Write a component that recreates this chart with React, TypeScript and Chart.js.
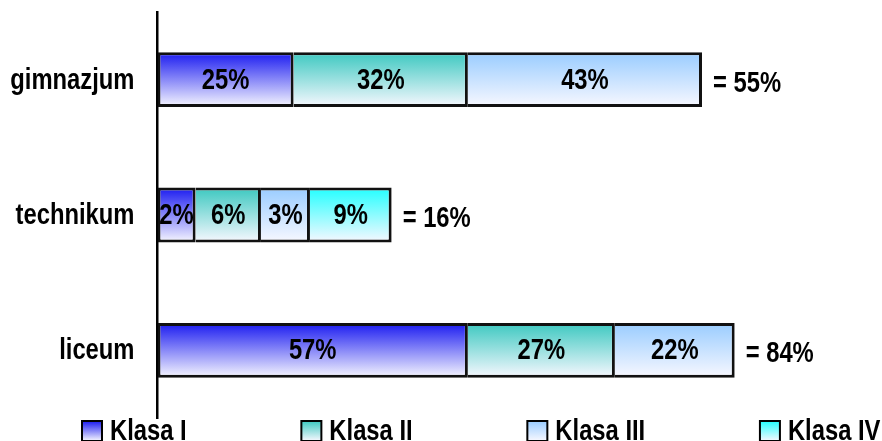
import React, { useEffect, useRef } from "react";
import { Chart, registerables } from "chart.js";

Chart.register(...registerables);

const categories = ["gimnazjum", "technikum", "liceum"];
const seriesNames = ["Klasa I", "Klasa II", "Klasa III", "Klasa IV"];
// bar lengths as drawn in the picture
const klasaI = [25, 7, 57];
const klasaII = [32, 12, 27];
const klasaIII = [43, 9, 22];
const klasaIV = [null, 15, null];
// printed labels
const labelsI = ["25%", "2%", "57%"];
const labelsII = ["32%", "6%", "27%"];
const labelsIII = ["43%", "3%", "22%"];
const labelsIV = ["", "9%", ""];
const totals = ["= 55%", "= 16%", "= 84%"];

const topColors = ["#1a1af0", "#3cc8c0", "#99ccff", "#22ffff"];
const bottomColor = "#f8f8ff";
const FAMILY = "'Liberation Sans', Arial, sans-serif";
const FONT_SIZE = 29;
const SX = 0.82; // condensed look (Arial Narrow-like)
const BAR_PCT = 0.405;

const segLabels = [labelsI, labelsII, labelsIII, labelsIV];
const seriesData = [klasaI, klasaII, klasaIII, klasaIV];

const makeBg = (color: string) => (ctx: any) => {
  const chart = ctx.chart;
  const ys = chart.scales && chart.scales.y;
  if (!ys || ctx.dataIndex === undefined) return color;
  const yc = ys.getPixelForValue(ctx.dataIndex);
  const half = ((ys.height / categories.length) * BAR_PCT) / 2;
  if (!isFinite(yc) || !isFinite(half) || half <= 0) return color;
  const g = chart.ctx.createLinearGradient(0, yc - half, 0, yc + half);
  g.addColorStop(0, color);
  g.addColorStop(1, bottomColor);
  return g;
};

function drawText(c: CanvasRenderingContext2D, t: string, x: number, y: number, align: CanvasTextAlign, baseline: CanvasTextBaseline) {
  c.save();
  c.translate(x, y);
  c.scale(SX, 1);
  c.textAlign = align;
  c.textBaseline = baseline;
  c.fillText(t, 0, 0);
  c.restore();
}

const labelPlugin = {
  id: "segLabels",
  afterDatasetsDraw(chart: any) {
    const c = chart.ctx;
    c.save();
    c.font = `bold ${FONT_SIZE}px ${FAMILY}`;
    c.fillStyle = "#000";
    const ends: number[] = categories.map(() => 0);
    chart.data.datasets.forEach((_ds: any, di: number) => {
      const meta = chart.getDatasetMeta(di);
      meta.data.forEach((el: any, i: number) => {
        const { x, y, base } = el.getProps(["x", "y", "base"], true);
        if (seriesData[di][i] == null) return;
        ends[i] = Math.max(ends[i], x);
        const t = segLabels[di][i];
        if (t) drawText(c, t, (x + base) / 2, y + 1, "center", "middle");
      });
    });
    const meta0 = chart.getDatasetMeta(0);
    totals.forEach((t, i) => {
      const y = meta0.data[i].y;
      drawText(c, t, ends[i] + 11, y + 4, "left", "middle");
    });
    // category labels on the y axis positions
    const ys = chart.scales.y;
    const left = chart.chartArea.left;
    (chart.data.labels as string[]).forEach((lab, i) => {
      drawText(c, lab, left - 23, ys.getPixelForValue(i) + 1, "right", "middle");
    });
    c.restore();
  },
  afterDraw(chart: any) {
    const c = chart.ctx;
    c.save();
    c.font = `bold ${FONT_SIZE}px ${FAMILY}`;
    let x = 82;
    const boxTop = 421;
    const box = 20;
    const gap = 114.7;
    seriesNames.forEach((name, i) => {
      const g = c.createLinearGradient(0, boxTop, 0, boxTop + box);
      g.addColorStop(0, topColors[i]);
      g.addColorStop(1, bottomColor);
      c.fillStyle = g;
      c.fillRect(x, boxTop, box, box);
      c.lineWidth = 2;
      c.strokeStyle = "#000";
      c.strokeRect(x, boxTop, box, box);
      c.fillStyle = "#000";
      const tx = x + box + 8;
      drawText(c, name, tx, 440, "left", "alphabetic");
      const w = c.measureText(name).width * SX;
      x = tx + w + gap;
    });
    c.restore();
  },
};

export default function App() {
  const ref = useRef<HTMLCanvasElement | null>(null);
  useEffect(() => {
    if (!ref.current) return;
    const chart = new Chart(ref.current, {
      type: "bar",
      data: {
        labels: categories,
        datasets: seriesNames.map((name, i) => ({
          label: name,
          data: seriesData[i] as any,
          backgroundColor: makeBg(topColors[i]),
          borderColor: "#111",
          borderWidth: { top: 3, bottom: 3, right: 3, left: i === 0 ? 3 : 0 },
          borderSkipped: false,
          barPercentage: BAR_PCT,
          categoryPercentage: 1,
        })),
      },
      options: {
        indexAxis: "y",
        responsive: false,
        animation: false,
        layout: { padding: { left: 0, right: 16.65, top: 12, bottom: 23 } },
        plugins: {
          legend: { display: false },
          tooltip: { enabled: false },
        },
        scales: {
          x: {
            stacked: true,
            min: 0,
            max: 130,
            display: false,
          },
          y: {
            stacked: true,
            grid: { display: false, drawTicks: false },
            border: { display: true, color: "#000", width: 2.5 },
            ticks: { display: false },
            afterFit: (scale: any) => {
              scale.width = 157.5;
            },
          },
        },
      },
      plugins: [labelPlugin],
    });
    return () => chart.destroy();
  }, []);
  return (
    <div style={{ position: "absolute", left: 0, top: 0, width: 882, height: 441 }}>
      <canvas ref={ref} width={882} height={441} style={{ display: "block" }} />
    </div>
  );
}
